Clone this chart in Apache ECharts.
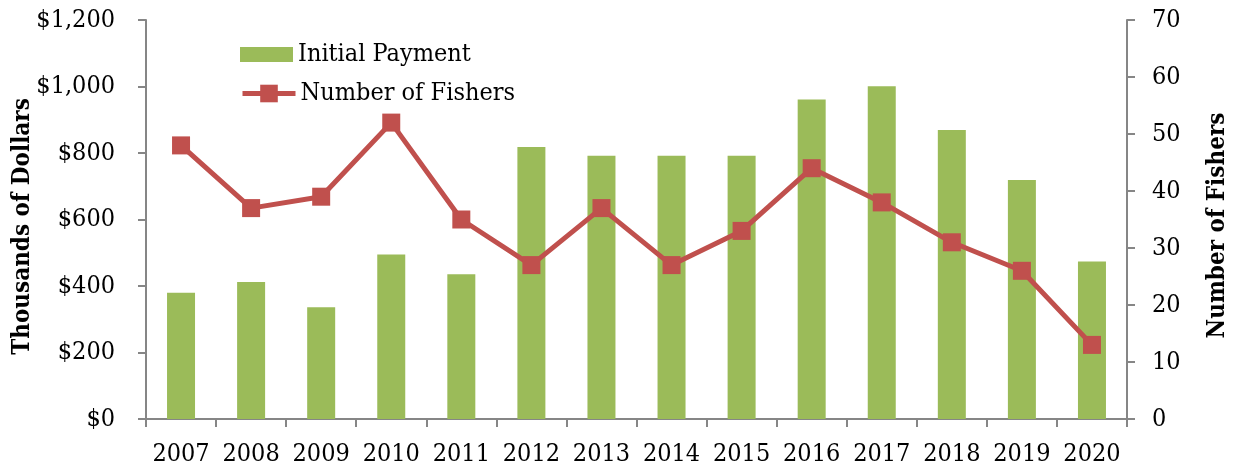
<!DOCTYPE html>
<html>
<head>
<meta charset="utf-8">
<script src="https://cdn.jsdelivr.net/npm/echarts@6/dist/echarts.min.js"></script>
<style>
  html, body { margin: 0; padding: 0; background: #fff; }
  #chart { width: 1233px; height: 467px; }
</style>
</head>
<body>
<div id="chart"></div>
<script>
// Years on the category axis
const years = ['2007', '2008', '2009', '2010', '2011', '2012', '2013',
               '2014', '2015', '2016', '2017', '2018', '2019', '2020'];
// Initial payment, thousands of dollars
const initialPayment = [380, 412, 336, 495, 435, 818, 792, 792, 792, 961, 1001, 869, 719, 474];
// Number of fishers receiving a payment
const numberOfFishers = [48, 37, 39, 52, 35, 27, 37, 27, 33, 44, 38, 31, 26, 13];

const FONT = '"DejaVu Serif Condensed", "Liberation Serif", serif';
const AXIS_GRAY = '#868686';
const BAR_GREEN = '#9BBB59';
const LINE_RED = '#C0504D';

const chart = echarts.init(document.getElementById('chart'), null, { renderer: 'canvas' });

const legendText = { fontFamily: FONT, fontSize: 25, color: '#000' };

chart.setOption({
  animation: false,
  backgroundColor: '#ffffff',
  textStyle: { fontFamily: FONT },
  grid: { left: 146, right: 106, top: 20, bottom: 48, containLabel: false, outerBoundsMode: 'none' },
  // one legend per entry so the bar swatch and the line marker get their own heights
  legend: [
    {
      left: 240, top: 42, padding: 0,
      itemWidth: 53, itemHeight: 15,
      textStyle: legendText,
      data: [{ name: 'Initial Payment', icon: 'rect' }]
    },
    {
      left: 240, top: 81, padding: 0,
      itemWidth: 53, itemHeight: 22,
      lineStyle: { width: 5 },
      textStyle: legendText,
      data: ['Number of Fishers']
    }
  ],
  xAxis: {
    type: 'category',
    data: years,
    boundaryGap: true,
    axisLine: { lineStyle: { color: AXIS_GRAY, width: 2 } },
    axisTick: { show: true, length: 8, alignWithLabel: false, lineStyle: { color: AXIS_GRAY, width: 2 } },
    axisLabel: { fontFamily: FONT, fontSize: 25, color: '#000', margin: 23, interval: 0 }
  },
  yAxis: [
    {
      type: 'value',
      min: 0, max: 1200, interval: 200,
      name: 'Thousands of Dollars',
      nameLocation: 'middle',
      nameGap: 111,
      nameMoveOverlap: false,
      nameRotate: 90,
      nameTextStyle: { fontFamily: FONT, fontSize: 24, fontWeight: 'bold', color: '#000', padding: [0, 14, 0, 0] },
      axisLine: { show: true, lineStyle: { color: AXIS_GRAY, width: 2 } },
      axisTick: { show: true, length: 8, lineStyle: { color: AXIS_GRAY, width: 2 } },
      splitLine: { show: false },
      axisLabel: {
        fontFamily: FONT, fontSize: 25, color: '#000', margin: 31,
        formatter: v => '$' + v.toLocaleString('en-US')
      }
    },
    {
      type: 'value',
      min: 0, max: 70, interval: 10,
      position: 'right',
      name: 'Number of Fishers',
      nameLocation: 'middle',
      nameGap: 79,
      nameRotate: 90,
      nameTextStyle: { fontFamily: FONT, fontSize: 24, fontWeight: 'bold', color: '#000', padding: [0, 12, 0, 0] },
      axisLine: { show: true, lineStyle: { color: AXIS_GRAY, width: 2 } },
      axisTick: { show: true, length: 8, lineStyle: { color: AXIS_GRAY, width: 2 } },
      splitLine: { show: false },
      axisLabel: { fontFamily: FONT, fontSize: 25, color: '#000', margin: 25 }
    }
  ],
  series: [
    {
      name: 'Initial Payment',
      type: 'bar',
      yAxisIndex: 0,
      data: initialPayment,
      barWidth: 28,
      itemStyle: { color: BAR_GREEN }
    },
    {
      name: 'Number of Fishers',
      type: 'line',
      yAxisIndex: 1,
      data: numberOfFishers,
      symbol: 'rect',
      symbolSize: 18,
      lineStyle: { color: LINE_RED, width: 5 },
      itemStyle: { color: LINE_RED }
    }
  ]
});
</script>
</body>
</html>
